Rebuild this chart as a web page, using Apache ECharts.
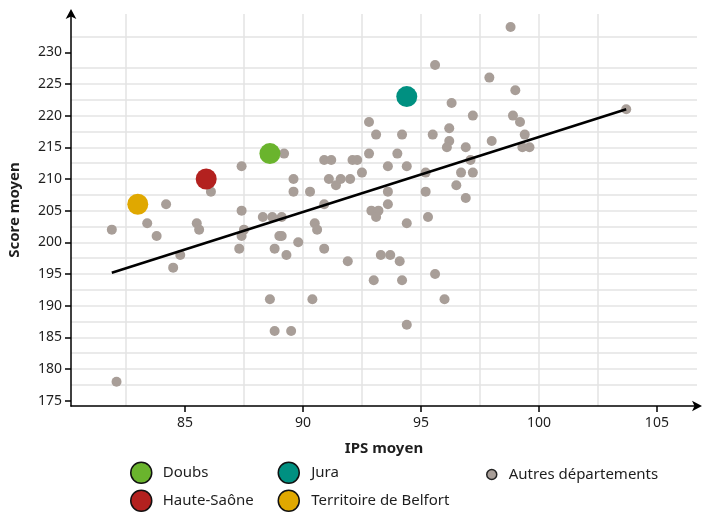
<!DOCTYPE html>
<html>
<head>
<meta charset="utf-8">
<script src="https://cdn.jsdelivr.net/npm/echarts@6/dist/echarts.min.js"></script>
<style>
html,body{margin:0;padding:0;background:#fff;}
#c{width:703px;height:512px;}
</style>
</head>
<body>
<div id="c"></div>
<script>
// Autres départements: [IPS moyen, Score moyen]
const autresIPS = [81.9,82.1,83.4,83.8,84.2,84.5,84.8,85.5,85.6,86.1,87.4,87.4,87.5,87.4,87.3,88.3,88.7,89.1,88.8,89.0,89.1,89.3,89.8,88.6,88.8,89.5,89.2,89.6,89.6,90.3,90.9,91.2,91.1,91.4,91.6,92.0,92.1,92.3,92.5,92.8,93.1,92.8,90.9,90.5,90.6,90.9,91.9,90.4,92.9,93.2,93.1,93.6,93.6,93.6,94.0,94.2,94.4,94.4,93.3,93.7,94.1,93.0,94.2,94.4,95.5,95.6,95.2,95.2,95.3,95.6,96.0,96.3,96.2,96.2,96.1,96.9,97.1,96.7,97.2,96.5,96.9,97.2,97.9,98.8,99.0,98.9,99.2,98.0,99.4,99.3,99.6,103.7];
const autresScore = [202,178,203,201,206,196,198,203,202,208,212,205,202,201,199,204,204,204,199,201,201,198,200,191,186,186,214,210,208,208,213,213,210,209,210,210,213,213,211,219,217,214,206,203,202,199,197,191,205,205,204,206,208,212,214,217,212,203,198,198,197,194,194,187,217,228,211,208,204,195,191,222,218,216,215,215,213,211,211,209,207,220,226,234,224,220,219,216,217,215,215,221];

const highlightNames = ['Doubs','Jura','Haute-Saône','Territoire de Belfort'];
const highlightIPS = [88.6, 94.4, 85.9, 83.0];
const highlightScore = [214, 223, 210, 206];
const highlightColors = ['#6ab42d','#009081','#b3211f','#e0a800'];

const trendIPS = [81.9, 103.7];
const trendScore = [195.2, 221.0];

const xTickLabels = [85, 90, 95, 100, 105];
const yTickLabels = [175, 180, 185, 190, 195, 200, 205, 210, 215, 220, 225, 230];

const greyColor = '#a89e98';
const FONT = 'Noto Sans';

const chart = echarts.init(document.getElementById('c'));

const pairs = (xs, ys) => xs.map((x, i) => [x, ys[i]]);

const series = [
  {
    name: 'Autres départements',
    type: 'scatter',
    data: pairs(autresIPS, autresScore),
    symbolSize: 10,
    itemStyle: { color: greyColor, opacity: 1 },
    z: 2
  },
  {
    name: 'Tendance',
    type: 'line',
    data: pairs(trendIPS, trendScore),
    symbol: 'none',
    lineStyle: { color: '#000', width: 2.5 },
    z: 3,
    silent: true
  }
];
highlightNames.forEach((n, i) => {
  series.push({
    name: n,
    type: 'scatter',
    data: [[highlightIPS[i], highlightScore[i]]],
    symbolSize: 21,
    itemStyle: { color: highlightColors[i], opacity: 1 },
    z: 4
  });
});

const legendText = { fontFamily: FONT, fontSize: 15, color: '#1e1e1e' };
function oneLegend(name, left, top, size, pad, border) {
  return {
    left: left, top: top, padding: 0,
    itemWidth: size, itemHeight: size,
    selectedMode: false,
    textStyle: Object.assign({ padding: [0, 0, 0, pad] }, legendText),
    data: [{ name: name, icon: 'circle', itemStyle: { borderColor: border, borderWidth: 1.5 } }]
  };
}

chart.setOption({
  animation: false,
  backgroundColor: '#fff',
  grid: { left: 71, right: 6, top: 14, bottom: 106, containLabel: false, outerBoundsMode: 'none' },
  xAxis: {
    type: 'value',
    min: 80.17, max: 106.7,
    splitNumber: 5,
    name: 'IPS moyen',
    nameLocation: 'middle',
    nameGap: 35,
    nameTextStyle: { fontFamily: FONT, fontSize: 15, fontWeight: 'bold', color: '#1e1e1e' },
    axisLine: { show: true, lineStyle: { color: '#000', width: 1.5 }, symbol: ['none', 'arrow'], symbolSize: [8, 10], symbolOffset: [0, 5] },
    axisTick: { show: true, length: 6, lineStyle: { color: '#000', width: 1.5 }, customValues: xTickLabels },
    axisLabel: { fontFamily: FONT, fontSize: 14, color: '#1e1e1e', margin: 10, customValues: xTickLabels },
    splitLine: { show: true, showMinLine: false, showMaxLine: false, lineStyle: { color: '#e4e4e4', width: 1.5 } },
    minorTick: { show: false, splitNumber: 2 },
    minorSplitLine: { show: true, lineStyle: { color: '#e4e4e4', width: 1.5 } }
  },
  yAxis: {
    type: 'value',
    min: 174.16, max: 236.04,
    splitNumber: 12,
    name: 'Score moyen',
    nameLocation: 'middle',
    nameGap: 49,
    nameRotate: 90,
    nameTextStyle: { fontFamily: FONT, fontSize: 15, fontWeight: 'bold', color: '#1e1e1e' },
    axisLine: { show: true, lineStyle: { color: '#000', width: 1.5 }, symbol: ['none', 'arrow'], symbolSize: [8, 10], symbolOffset: [0, 5] },
    axisTick: { show: true, length: 6, lineStyle: { color: '#000', width: 1.5 }, customValues: yTickLabels },
    axisLabel: { fontFamily: FONT, fontSize: 14, color: '#1e1e1e', margin: 9, customValues: yTickLabels },
    splitLine: { show: true, showMinLine: false, showMaxLine: false, lineStyle: { color: '#e4e4e4', width: 1.5 } },
    minorTick: { show: false, splitNumber: 2 },
    minorSplitLine: { show: true, lineStyle: { color: '#e4e4e4', width: 1.5 } }
  },
  legend: [
    oneLegend('Doubs', 130, 461.5, 21, 6, '#111'),
    oneLegend('Haute-Saône', 130, 489.5, 21, 6, '#111'),
    oneLegend('Jura', 277.5, 461.5, 21, 7, '#111'),
    oneLegend('Territoire de Belfort', 277.5, 489.5, 21, 7, '#111'),
    oneLegend('Autres départements', 486, 467, 10, 7, '#222')
  ],
  series: series
});
</script>
</body>
</html>
